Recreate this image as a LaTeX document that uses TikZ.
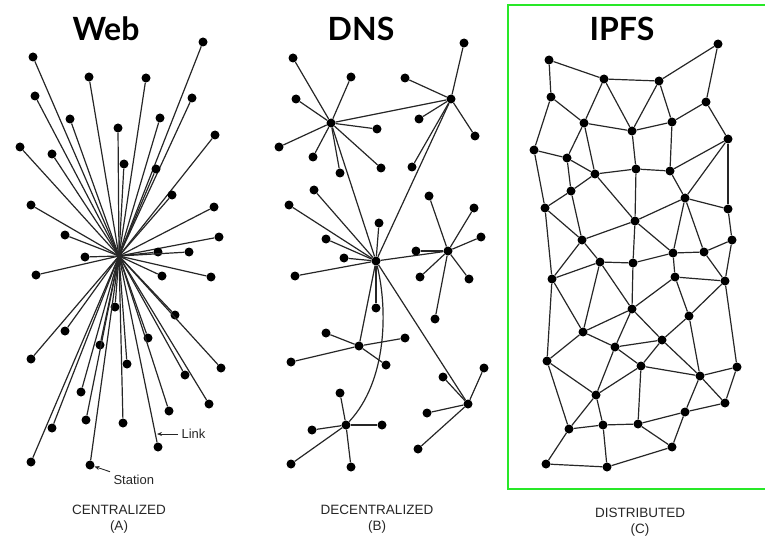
\documentclass[tikz,border=0pt]{standalone}
\usepackage{fontspec}
\setmainfont{Liberation Sans}
\newfontfamily\titlefont{Lato}
\usetikzlibrary{arrows.meta}
\definecolor{framegreen}{RGB}{40,232,40}
\tikzset{
  dot/.style={circle, fill=black, inner sep=0pt, minimum size=9pt},
  link/.style={line width=1.2pt, draw=black!85},
  heading/.style={font=\titlefont\bfseries\fontsize{32}{32}\selectfont, anchor=base},
  caption/.style={font=\fontsize{13.5}{16.5}\selectfont, align=center, text=black!85},
  note/.style={font=\fontsize{13}{15}\selectfont, text=black!85},
  pointer/.style={line width=0.9pt, draw=black!85, -{Stealth[length=5pt,width=4pt]}}
}
\begin{document}
\begin{tikzpicture}[x=1pt,y=-1pt]
\useasboundingbox (0,0) rectangle (765,540);

% ---------- headings ----------
\node[heading] (tweb) at (106,41) {Web};
\node[heading] (tdns) at (361,41) {DNS};
\node[heading] (tipfs) at (622,41) {IPFS};

% ---------- centralized star ----------
\coordinate (hubA) at (119,256);
\foreach \i/\x/\y in {1/33/57, 2/89/77, 3/146/78, 4/203/42, 5/35/96, 6/192/98,
  7/70/119, 8/160/118, 9/118/128, 10/215/135, 11/20/147, 12/52/154, 13/124/164,
  14/156/169, 15/172/195, 16/31/205, 17/214/207, 18/65/235, 19/219/237,
  20/158/252, 21/189/252, 22/85/257, 23/36/275, 24/162/276, 25/211/277,
  26/115/307, 27/175/315, 28/65/331, 29/148/338, 30/100/345, 31/31/359,
  32/127/364, 33/221/368, 34/185/375, 35/81/392, 36/209/404, 37/169/411,
  38/86/420, 39/123/423, 40/52/428, 41/158/447, 42/31/462, 43/90/465}{
  \node[dot] (a\i) at (\x,\y) {};
  \draw[link] (hubA) -- (a\i);
}
\coordinate (linkpt) at (157,434);
\node[note, anchor=west] (linklbl) at (178,434) {Link};
\draw[pointer] (linklbl.west) -- (linkpt);
\node[note, anchor=west] (stationlbl) at (110,480) {Station};
\draw[pointer] (stationlbl.north west) -- (a43);

% ---------- decentralized: hubs ----------
\node[dot] (b1) at (331,123) {};
\node[dot] (b2) at (451,99) {};
\node[dot] (b3) at (376,261) {};
\node[dot] (b4) at (448,251) {};
\node[dot] (b5) at (359,346) {};
\node[dot] (b6) at (346,425) {};
\node[dot] (b7) at (468,404) {};
\draw[link] (b1) -- (b2);
\draw[link] (b1) -- (b3);
\draw[link] (b2) -- (b3);
\draw[link] (b3) -- (b4);
\draw[link] (b3) -- (b5);
\draw[link] (b3) -- (b7);
\draw[link] (b3) .. controls (388,310) and (387,381) .. (b6);

% ---------- decentralized: leaves ----------
\foreach \hub/\lst in {
  b1/{1/293/58, 2/351/77, 3/296/99, 4/377/129, 5/279/147, 6/313/157, 7/381/168, 8/340/173},
  b2/{1/464/43, 2/405/78, 3/419/119, 4/475/136, 5/412/167},
  b3/{1/314/190, 2/289/205, 3/379/223, 4/326/239, 5/344/258, 6/295/276, 7/376/308},
  b4/{1/429/196, 2/474/208, 3/481/237, 4/416/251, 5/420/277, 6/469/279, 7/435/319},
  b5/{1/326/333, 2/405/338, 3/291/362, 4/386/365},
  b6/{1/340/393, 2/312/430, 3/382/425, 4/291/464, 5/351/467},
  b7/{1/484/368, 2/443/377, 3/427/413, 4/418/449}}{
  \foreach \j/\x/\y in \lst {
    \node[dot] (\hub-\j) at (\x,\y) {};
    \draw[link] (\hub) -- (\hub-\j);
  }
}

% ---------- distributed mesh ----------
\draw[framegreen, line width=2pt] (508,5) rectangle (775,489);
\foreach \i/\x/\y in {1/549/60, 2/718/44, 3/604/79, 4/659/81, 5/551/97,
  6/706/102, 7/584/123, 8/672/122, 9/632/131, 10/728/139, 11/534/150,
  12/567/158, 13/595/174, 14/636/169, 15/670/171, 16/571/191, 17/685/198,
  18/545/208, 19/728/209, 20/635/221, 21/582/240, 22/732/240, 23/673/253,
  24/704/252, 25/600/262, 26/633/263, 27/552/279, 28/675/277, 29/725/281,
  30/632/309, 31/689/316, 32/583/332, 33/662/340, 34/615/347, 35/547/361,
  36/641/366, 37/737/367, 38/700/376, 39/596/395, 40/725/403, 41/685/412,
  42/569/429, 43/603/425, 44/638/424, 45/672/447, 46/546/464, 47/607/467}{
  \node[dot] (c\i) at (\x,\y) {};
}
\foreach \p/\q in {1/3, 1/5, 3/4, 3/7, 3/9, 4/9, 4/8, 4/2, 2/6, 6/8, 6/10,
  5/7, 5/11, 7/12, 7/13, 7/9, 9/8, 9/14, 8/15, 10/15, 10/17, 10/19,
  11/12, 11/18, 12/13, 12/16, 13/14, 14/15, 13/20, 14/20, 15/17, 16/18,
  16/13, 16/21, 18/21, 17/20, 17/19, 17/23, 17/24, 19/22, 22/24, 22/29,
  24/23, 24/29, 20/21, 20/26, 20/23, 18/27, 21/27, 21/25, 27/25, 25/26,
  25/32, 25/30, 26/30, 26/23, 23/28, 28/29, 28/30, 28/31, 29/31, 29/37,
  27/32, 27/35, 32/30, 32/34, 30/34, 30/33, 31/33, 31/38, 32/35, 33/34,
  33/36, 33/38, 34/36, 34/39, 35/39, 35/42, 36/39, 36/38, 36/44, 37/38,
  37/40, 38/40, 38/41, 39/42, 39/43, 41/40, 41/44, 41/45, 42/43, 43/44,
  44/45, 42/46, 43/47, 46/47, 47/45}{
  \draw[link] (c\p) -- (c\q);
}

% ---------- captions ----------
\node[caption] (capa) at (119,519) {CENTRALIZED\\(A)};
\node[caption] (capb) at (377,519) {DECENTRALIZED\\(B)};
\node[caption] (capc) at (640,522) {DISTRIBUTED\\(C)};
\end{tikzpicture}
\end{document}
